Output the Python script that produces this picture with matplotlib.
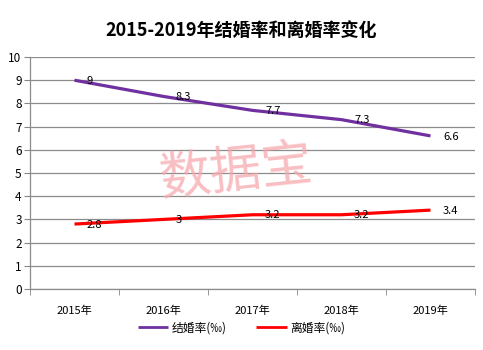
import matplotlib
matplotlib.use("Agg")
import matplotlib.pyplot as plt
from matplotlib.ticker import FixedLocator

plt.rcParams['font.family'] = ['Noto Sans CJK SC', 'DejaVu Sans']

years = ['2015年', '2016年', '2017年', '2018年', '2019年']
marriage = [9, 8.3, 7.7, 7.3, 6.6]
divorce = [2.8, 3, 3.2, 3.2, 3.4]
series_names = ['结婚率(‰)', '离婚率(‰)']
colors = ['#7030A0', '#FF0000']

fig = plt.figure(figsize=(4.83, 3.5), dpi=100)
ax = fig.add_axes([0.0621, 0.1743, 0.9213, 0.6628])

x = list(range(len(years)))
for vals, name, c in zip([marriage, divorce], series_names, colors):
    ax.plot(x, vals, color=c, lw=2.3, label=name, solid_capstyle='butt', zorder=3)
    for xi, v in zip(x, vals):
        ax.annotate(f'{v:g}', (xi, v), xytext=(9, -0.5), textcoords='offset points',
                    ha='left', va='center', fontsize=8, color='black', zorder=4)

ax.set_xlim(-0.5, len(years) - 0.5)
ax.set_ylim(0, 10)
ax.set_yticks(range(0, 11))
ax.set_xticks(x)
ax.set_xticklabels(years, fontsize=8)
ax.xaxis.set_minor_locator(FixedLocator([i - 0.5 for i in range(len(years) + 1)]))
ax.tick_params(axis='x', which='major', length=0, pad=12)
ax.tick_params(axis='x', which='minor', length=4, color='#888888')
ax.tick_params(axis='y', length=4, color='#888888', labelsize=8.5, pad=2)
ax.grid(axis='y', color='#8c8c8c', lw=0.9)
ax.set_axisbelow(True)
for s in ['top', 'right']:
    ax.spines[s].set_visible(False)
for s in ['left', 'bottom']:
    ax.spines[s].set_color('#8c8c8c')
    ax.spines[s].set_linewidth(0.9)

ax.text(0.463, 0.50, '数据宝', transform=ax.transAxes, fontsize=37, color='#F6A8AE',
        alpha=0.75, rotation=6, ha='center', va='center', fontweight='light', zorder=5)

fig.text(0.5, 0.912, '2015-2019年结婚率和离婚率变化', ha='center', va='center',
         fontsize=13, fontweight='bold')

fig.legend(loc='center', bbox_to_anchor=(0.5, 0.063), ncol=2, frameon=False,
           fontsize=8.5, handlelength=2.6, handletextpad=0.3, columnspacing=2.5)
for line in fig.legends[0].get_lines():
    line.set_linewidth(2)

fig.savefig('out.png', dpi=100)
